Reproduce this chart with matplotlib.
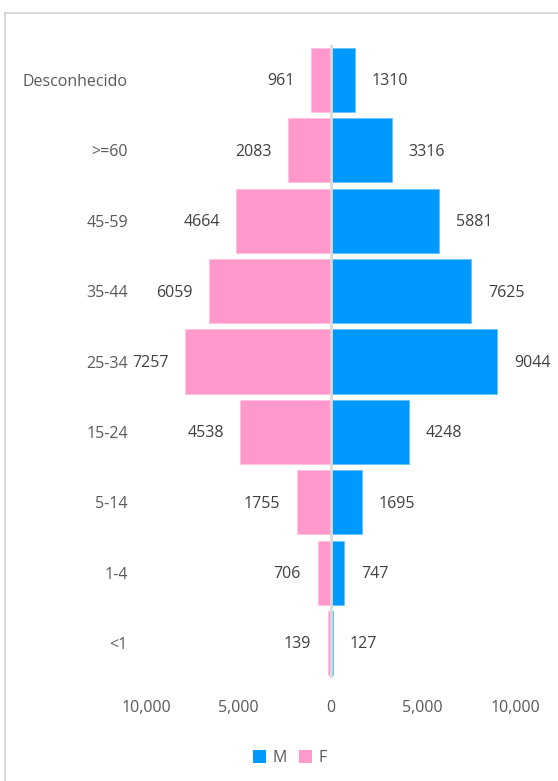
import matplotlib
matplotlib.use("Agg")
import matplotlib.pyplot as plt
from matplotlib.patches import Rectangle, Patch
from matplotlib.ticker import FuncFormatter

plt.rcParams['font.family'] = ['Open Sans', 'DejaVu Sans']

categories = ['<1', '1-4', '5-14', '15-24', '25-34', '35-44', '45-59', '>=60', 'Desconhecido']
m_values = [127, 747, 1695, 4248, 9044, 7625, 5881, 3316, 1310]
f_values = [139, 706, 1755, 4538, 7257, 6059, 4664, 2083, 961]
# bar lengths of the F series as drawn in the picture
f_bar = [140, 700, 1840, 4880, 7860, 6560, 5100, 2280, 1030]
x_ticks = [-10000, -5000, 0, 5000, 10000]

W, H = 558, 781
fig = plt.figure(figsize=(W / 100, H / 100), dpi=100)

# chart frame (cropped at right and bottom)
fig.patches.append(Rectangle((4.5 / W, -0.1), 1.2, 1.1 - 13 / H, transform=fig.transFigure,
                             fill=False, edgecolor='#D9D9D9', linewidth=1.5, zorder=0))

ax = fig.add_axes([146 / W, 1 - 678.2 / H, 369 / W, 633.4 / H])
y = list(range(len(categories)))
blue = '#0099FF'
pink = '#FF99CC'
ax.barh(y, m_values, height=0.91, color=blue, edgecolor='#66C2FF', linewidth=0.6, zorder=2)
ax.barh(y, [-v for v in f_bar], height=0.91, color=pink, edgecolor='#FFC2E0', linewidth=0.6, zorder=2)
ax.axvline(0, color='#D9D9D9', linewidth=2, zorder=3)

ax.set_xlim(-10000, 10000)
ax.set_ylim(-0.5, len(categories) - 0.5)
ax.set_yticks(y)
ax.set_yticklabels(categories)
ax.set_xticks(x_ticks)
ax.xaxis.set_major_formatter(FuncFormatter(lambda v, p: f"{abs(int(v)):,}"))
for s in ax.spines.values():
    s.set_visible(False)
ax.tick_params(axis='y', length=0, pad=13, labelsize=11.5, labelcolor='#595959')
ax.tick_params(axis='x', length=0, pad=15.5, labelsize=11.5, labelcolor='#595959')

lbl_color = '#404040'
for yi, mv, fv, fb in zip(y, m_values, f_values, f_bar):
    ax.annotate(f"{mv}", (mv, yi), xytext=(12, -1), textcoords='offset points',
                ha='left', va='center', fontsize=11.5, color=lbl_color)
    ax.annotate(f"{fv}", (-fb, yi), xytext=(-12, -1), textcoords='offset points',
                ha='right', va='center', fontsize=11.5, color=lbl_color)

handles = [Patch(facecolor=blue, label='M'), Patch(facecolor=pink, label='F')]
fig.legend(handles=handles, loc='center', bbox_to_anchor=(290 / W, 1 - 758 / H), ncol=2,
           frameon=False, fontsize=11.5, labelcolor='#595959', handlelength=0.8, handleheight=0.8,
           handletextpad=0.4, columnspacing=0.8)

fig.savefig('out.png', dpi=100)
